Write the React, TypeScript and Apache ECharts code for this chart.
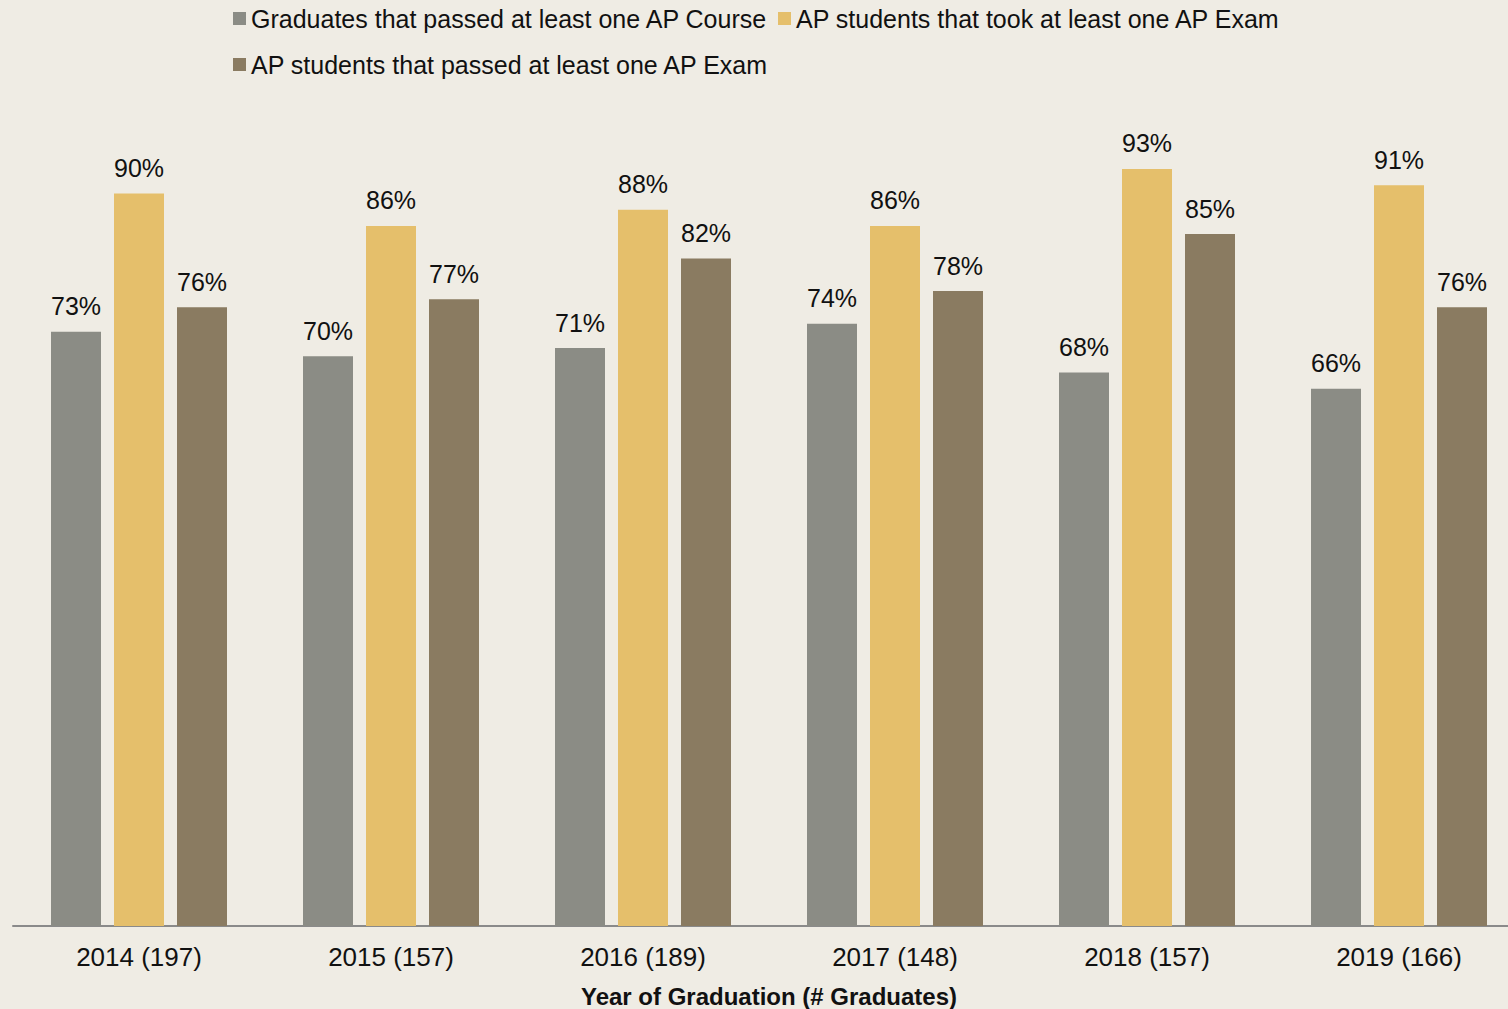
import React, { useEffect, useRef } from "react";
import * as echarts from "echarts";

const categories = ["2014 (197)", "2015 (157)", "2016 (189)", "2017 (148)", "2018 (157)", "2019 (166)"];
const seriesNames = [
  "Graduates that passed at least one AP Course",
  "AP students that took at least one AP Exam",
  "AP students that passed at least one AP Exam",
];
const passedCourse = [73, 70, 71, 74, 68, 66];
const tookExam = [90, 86, 88, 86, 93, 91];
const passedExam = [76, 77, 82, 78, 85, 76];
const colors = ["#8B8C85", "#E5BF6B", "#8A7B61"];

const FONT = "Liberation Sans";

export default function App() {
  const ref = useRef<HTMLDivElement>(null);
  useEffect(() => {
    document.body.style.margin = "0";
    const chart = echarts.init(ref.current!, null, { renderer: "svg" });
    const values = [passedCourse, tookExam, passedExam];
    chart.setOption({
      animation: false,
      backgroundColor: "#EFECE4",
      textStyle: { fontFamily: FONT },
      legend: [
        {
          data: [seriesNames[0], seriesNames[1]],
          left: 228,
          top: 1,
          itemWidth: 13,
          itemHeight: 13,
          itemGap: 10,
          icon: "rect",
          textStyle: { fontSize: 25, color: "#111", fontFamily: FONT },
        },
        {
          data: [seriesNames[2]],
          left: 228,
          top: 47,
          itemWidth: 13,
          itemHeight: 13,
          icon: "rect",
          textStyle: { fontSize: 25, color: "#111", fontFamily: FONT },
        },
      ],
      grid: {
        left: 13,
        top: 112,
        width: 1512,
        height: 814,
        containLabel: false,
        outerBoundsMode: "none",
      },
      xAxis: {
        type: "category",
        data: categories,
        axisTick: { show: false },
        axisLine: { lineStyle: { color: "#8A8A8A", width: 2 } },
        axisLabel: { fontSize: 26, color: "#111", margin: 18, fontFamily: FONT },
        name: "Year of Graduation (# Graduates)",
        nameLocation: "middle",
        nameGap: 58,
        nameTextStyle: { fontSize: 24, fontWeight: "bold", color: "#111", fontFamily: FONT },
      },
      yAxis: { type: "value", min: 0, max: 100, show: false, splitLine: { show: false } },
      series: seriesNames.map((name, i) => ({
        name,
        type: "bar",
        data: values[i],
        barWidth: 50,
        barGap: "26%",
        itemStyle: { color: colors[i] },
        label: {
          show: true,
          position: "top",
          distance: 13,
          formatter: "{c}%",
          fontSize: 25,
          color: "#111",
          fontFamily: FONT,
        },
      })),
    });
    return () => chart.dispose();
  }, []);
  return <div ref={ref} style={{ width: 1508, height: 1009 }} />;
}
